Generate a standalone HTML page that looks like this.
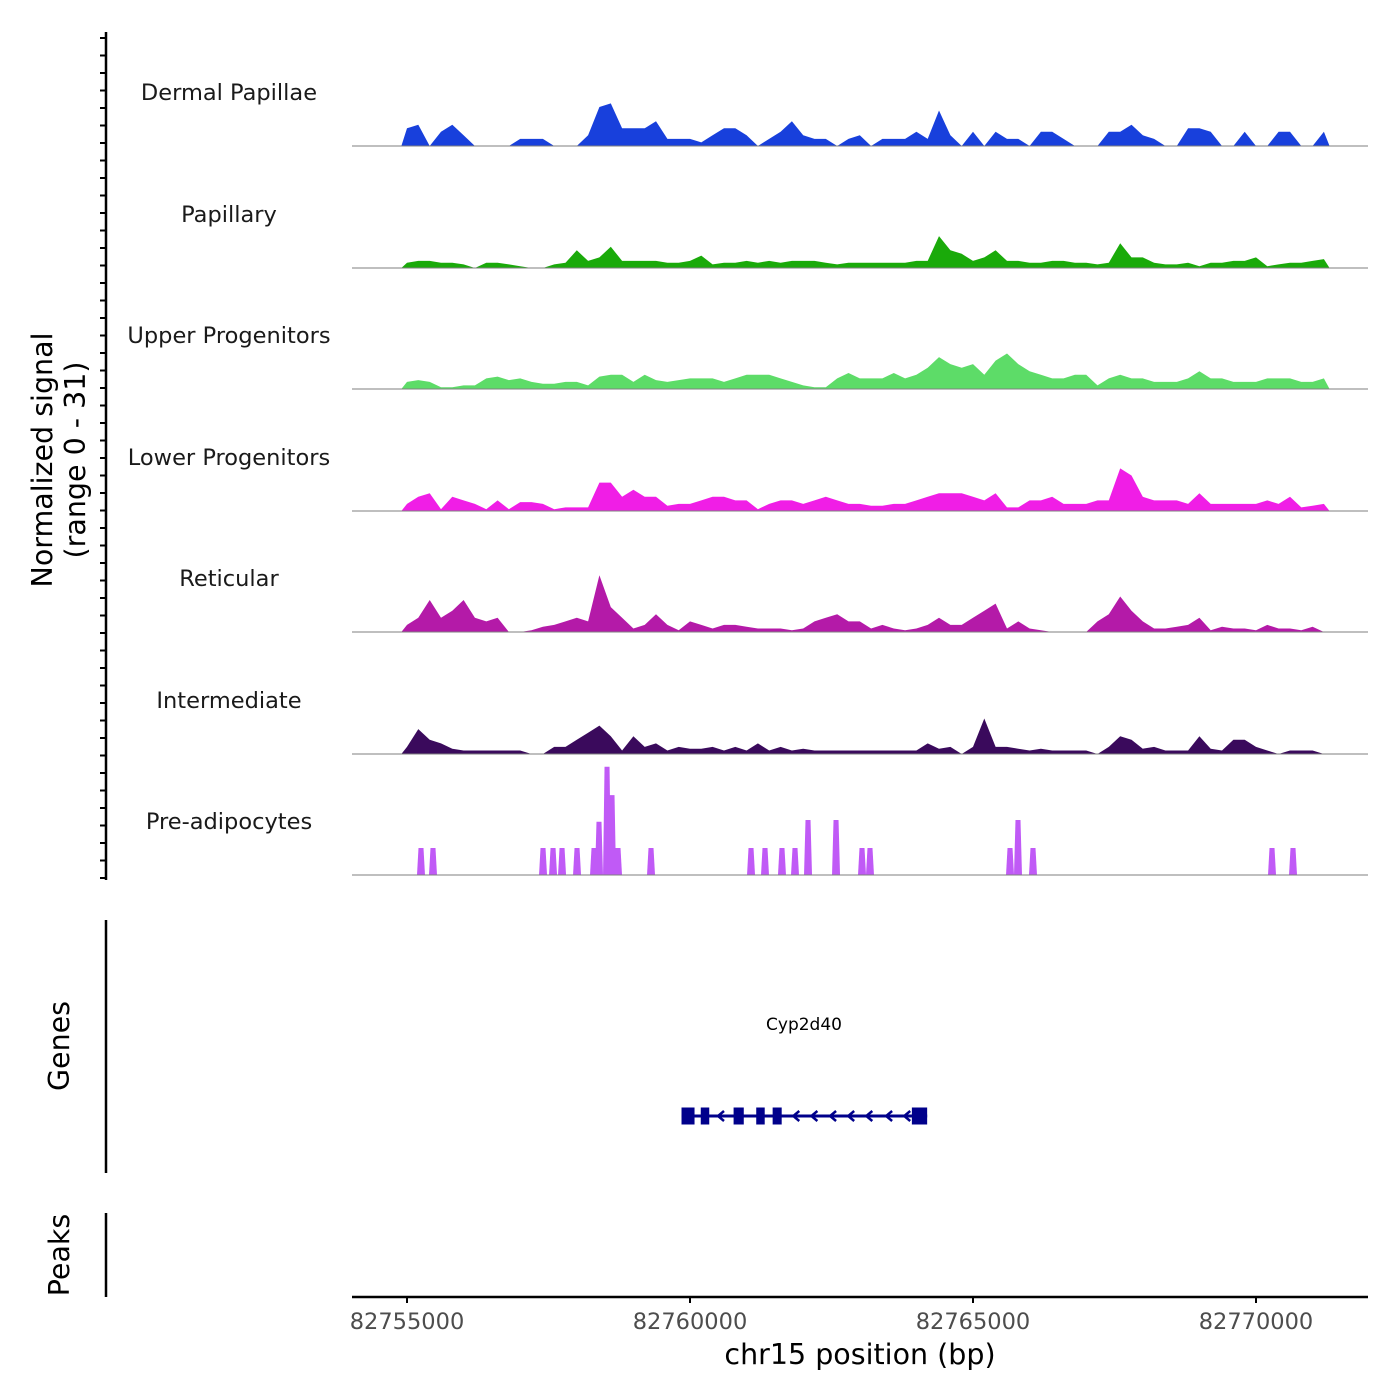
<!DOCTYPE html>
<html><head><meta charset="utf-8">
<style>
html,body{margin:0;padding:0;background:#fff;}
svg{display:block;font-family:"DejaVu Sans","Liberation Sans",sans-serif;}
</style></head>
<body>
<svg id="chart" width="1400" height="1400" viewBox="0 0 1400 1400" xmlns="http://www.w3.org/2000/svg">
</svg>
<script>
// ---- data ----
const trackNames = ["Dermal Papillae","Papillary","Upper Progenitors","Lower Progenitors","Reticular","Intermediate","Pre-adipocytes"];
const trackColors = ["#1840dc","#1aaa0a","#5ddc68","#f01ee6","#b41aa8","#3a0a5c","#c05af6"];
const binStart = 82754900;
const binSize = 200;
const dermalPapillae = [5,6,0,4,6,3,0,0,0,0,2,2,2,0,0,0,3,11,12,5,5,5,7,2,2,2,1,3,5,5,3,0,2,4,7,3,2,2,0,2,3,0,2,2,2,4,2,10,3,0,4,0,4,2,2,0,4,4,2,0,0,0,4,4,6,3,2,0,0,5,5,4,0,0,4,0,0,4,4,0,0,4];
const papillary = [1.5,2,2,1.5,1.5,1,0,1.5,1.5,1,0.5,0,0,1,1.5,5,2,3,6,2,2,2,2,1.5,1.5,2,3.5,1,1.5,1.5,2,1.5,2,1.5,2,2,2,1.5,1,1.5,1.5,1.5,1.5,1.5,1.5,2,2,9,5,4,2,3,5,2,2,1.5,1.5,2,2,1.5,1.5,1,1.5,7,3,3,1.5,1,1,1.5,0.5,1.5,1.5,2,2,3,0.5,1,1.5,1.5,2,2.5];
const upperProgenitors = [2,2.5,2,0.5,0.5,1,1,3,3.5,2.5,3,2,1.5,1.5,2,2,1,3.5,4,4,2,4,2.5,2,2.5,3,3,3,2,3,4,4,4,3,2,1,0.5,0.5,3,4.5,3,3,3,4.5,3,4,6,9,7,6,7,4,8,10,7,5,4,3,3,4,4,1,3,4,3,3,2,2,2,3,5,3,3,2,2,2,3,3,3,2,2,3];
const lowerProgenitors = [2,4,5,0.5,4,3,2,0.5,3,0.5,2.5,2.5,2,0.5,1,1,1,8,8,4,6,4,4,1.5,2,2,3,4,4,3,3,0.5,2,3,3,2,3,4,3,2,2,1.5,1.5,2,2,3,4,5,5,5,4,3,5,1,1,3,3,4,2,2,2,3,3,12,10,4,3,3,3,2,5,2,2,2,2,2,3,2,4,1,1.5,2];
const reticular = [2,4,9,4,6,9,4,3,4,0,0,0.5,1.5,2,3,4,3,16,7,4,1,2,5,2,0.5,3,2,1,2,2,1.5,1,1,1,0.5,1,3,4,5,3,3,1,2,1,0.5,1,2,4,2,2,4,6,8,1,3,1,0.5,0,0,0,0,3,5,10,6,3,1,1,1.5,2,4,0.5,1.5,1,1,0.5,2,1,1,0.5,1.5,0];
const intermediate = [2,7,4,3,1.5,1,1,1,1,1,1,0,0,2,2,4,6,8,5,1,5,2,3,1,2,1.5,1.5,2,1,2,1,3,1,2,1,1.5,1,1,1,1,1,1,1,1,1,1,3,1.5,2,0,2,10,2,2,1.5,1,1.5,1,1,1,1,0,2,5,4,1.5,2,1,1,1,5,1.5,1,4,4,2,1,0,1,1,1,0];
const preAdiPos = [82755247,82755459,82757403,82757580,82757739,82758004,82758304,82758392,82758534,82758622,82758728,82759311,82761078,82761325,82761625,82761855,82762085,82762580,82763039,82763180,82765654,82765795,82766060,82770283,82770654];
const preAdiVal = [7.6,7.6,7.6,7.6,7.6,7.6,7.6,15,30.5,22.5,7.6,7.6,7.6,7.6,7.6,7.6,15.5,15.5,7.6,7.6,7.6,15.5,7.6,7.6,7.6];
const xTicks = [82755000,82760000,82765000,82770000];
const geneExonStarts = [82759850,82760190,82760770,82761170,82761460,82763920];
const geneExonEnds = [82760080,82760340,82760950,82761320,82761620,82764190];
const geneArrows = [82760530,82761860,82762180,82762510,82762830,82763150,82763500,82763820];
const geneStart = 82759850, geneEnd = 82764190;

// ---- scales ----
const X0 = 352, X1 = 1368, BP0 = 82754028, BP1 = 82771979;
const xs = bp => X0 + (bp - BP0) / (BP1 - BP0) * (X1 - X0);
const baselines = [146,268,389,511,632,754,875];
const ys = (v, b) => b - v * 3.55;

const svg = document.getElementById('chart');
const NS = 'http://www.w3.org/2000/svg';
function mk(tag, attrs, parent) {
  const e = document.createElementNS(NS, tag);
  for (const k in attrs) e.setAttribute(k, attrs[k]);
  (parent || svg).appendChild(e);
  return e;
}

const series = [dermalPapillae, papillary, upperProgenitors, lowerProgenitors, reticular, intermediate];
series.forEach((arr, t) => {
  const b = baselines[t];
  let pts = [];
  pts.push(xs(binStart) + ',' + b);
  arr.forEach((v, i) => {
    pts.push(xs(binStart + binSize * (i + 0.5)).toFixed(1) + ',' + ys(v, b).toFixed(1));
  });
  pts.push(xs(binStart + binSize * arr.length) + ',' + b);
  const p = mk('polygon', {points: pts.join(' '), fill: trackColors[t]});
  
  
});
// pre-adipocytes spikes
{
  const b = baselines[6];
  preAdiPos.forEach((pos, i) => {
    const x = xs(pos), y = ys(preAdiVal[i], b);
    const p = mk('polygon', {points: `${x-4},${b} ${x-2.5},${y} ${x+2.5},${y} ${x+4},${b}`, fill: trackColors[6]});
    
    
  });
}
// baselines & labels
const labelY = [92,214,335,457,578,700,821];
baselines.forEach((b, t) => {
  const l = mk('line', {x1: X0, x2: X1, y1: b, y2: b, stroke: '#7f7f7f', 'stroke-width': 1});
  
  
  const tx = mk('text', {x: 229, y: labelY[t] + 8, 'text-anchor': 'middle', 'font-size': 22.5, fill: '#1a1a1a'});
  tx.textContent = trackNames[t];
  
  
});
// left axis
{
  const a = mk('line', {x1: 106, x2: 106, y1: 32, y2: 880, stroke: '#000', 'stroke-width': 2.5});
  
  
  for (let y = 38; y <= 878; y += 17.5) {
    const tk = mk('line', {x1: 100, x2: 106, y1: y, y2: y, stroke: '#000', 'stroke-width': 2});
    
    
  }
  const g = mk('text', {transform: 'translate(52,460) rotate(-90)', 'text-anchor': 'middle', 'font-size': 28.5, fill: '#000'});
  
  
  const t1 = mk('tspan', {x: 0, dy: 0}, g); t1.textContent = 'Normalized signal';
  const t2 = mk('tspan', {x: 0, dy: 33}, g); t2.textContent = '(range 0 - 31)';
}
// genes & peaks axes
[[920,1173,'Genes',1046],[1213,1297,'Peaks',1255]].forEach(([y1,y2,lbl,cy]) => {
  const a = mk('line', {x1: 106, x2: 106, y1: y1, y2: y2, stroke: '#000', 'stroke-width': 2.5});
  
  
  const t = mk('text', {transform: `translate(69,${cy}) rotate(-90)`, 'text-anchor': 'middle', 'font-size': 28.5, fill: '#000'});
  t.textContent = lbl;
  
  
});
// gene model
{
  const gy = 1116;
  const gl = mk('line', {x1: xs(geneStart), x2: xs(geneEnd), y1: gy, y2: gy, stroke: '#00008b', 'stroke-width': 3});
  
  
  geneExonStarts.forEach((s, i) => {
    const r = mk('rect', {x: xs(s), y: gy - 8.5, width: xs(geneExonEnds[i]) - xs(s), height: 17, fill: '#00008b'});
    
    
  });
  geneArrows.forEach(a => {
    const x = xs(a);
    const p = mk('polyline', {points: `${x+4},${gy-5} ${x-2},${gy} ${x+4},${gy+5}`, fill: 'none', stroke: '#00008b', 'stroke-width': 2.5});
    
    
  });
  const t = mk('text', {x: 804, y: 1030, 'text-anchor': 'middle', 'font-size': 17, fill: '#000'});
  t.textContent = 'Cyp2d40';
  
  
}
// x axis
{
  const a = mk('line', {x1: X0, x2: X1, y1: 1297, y2: 1297, stroke: '#000', 'stroke-width': 2.5});
  
  
  xTicks.forEach(v => {
    const x = xs(v);
    const tk = mk('line', {x1: x, x2: x, y1: 1297, y2: 1303, stroke: '#000', 'stroke-width': 2});
    
    
    const t = mk('text', {x: x, y: 1329, 'text-anchor': 'middle', 'font-size': 22.5, fill: '#4d4d4d'});
    t.textContent = String(v);
    
    
  });
  const t = mk('text', {x: 860, y: 1364, 'text-anchor': 'middle', 'font-size': 28.5, fill: '#000'});
  t.textContent = 'chr15 position (bp)';
  
  
}
</script>
</body></html>
